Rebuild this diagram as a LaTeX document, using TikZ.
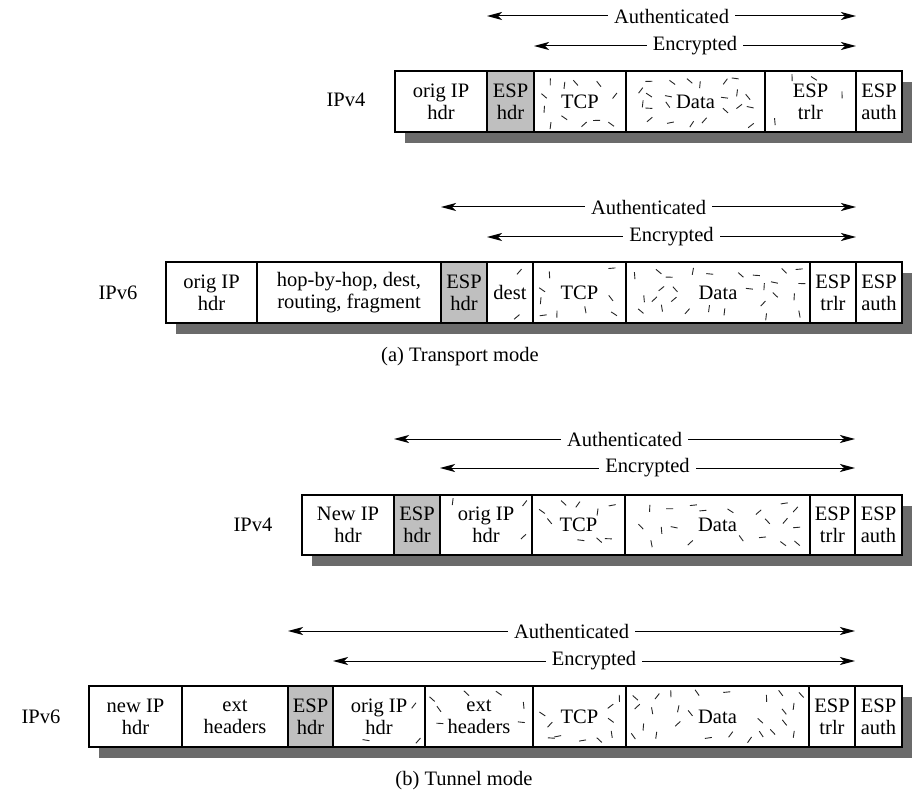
\documentclass[tikz,border=0pt]{standalone}
\usepackage{fontspec}
\setmainfont{Liberation Serif}
\usetikzlibrary{arrows.meta}
\tikzset{
  fld/.style={draw=black, line width=1.7pt, inner sep=0pt, align=center,
    font=\fontsize{20.5}{22}\selectfont},
  esph/.style={fill=black!25},
  shade/.style={fill=black!58},
  dashc/.style={line width=0.9pt, black!85},
  span/.style={line width=1pt, {Stealth[length=15pt,width=8pt,inset=4pt]}-{Stealth[length=15pt,width=8pt,inset=4pt]}},
  spanlbl/.style={fill=white, inner xsep=6pt, inner ysep=1pt, font=\fontsize{20.5}{22}\selectfont},
  rowlbl/.style={font=\fontsize{20.5}{22}\selectfont},
}
% field box: name, x1, x2, y1, y2, extra style, text
\newcommand\fld[7]{%
  \node[fld,#6,minimum width={#3-#2}, minimum height={#5-#4}] (#1) at ({(#2+#3)/2},{(#4+#5)/2}) {#7};}
% confetti on a jittered grid: x1, x2, y1, y2, exclusion half-width, exclusion half-height
\newcommand\confetti[6]{%
  \pgfmathtruncatemacro\ncol{max(1,round((#2-#1-8)/17))}%
  \pgfmathtruncatemacro\nrow{max(1,round((#4-#3-8)/15))}%
  \pgfmathsetmacro\ddx{(#2-#1-8)/\ncol}%
  \pgfmathsetmacro\ddy{(#4-#3-8)/\nrow}%
  \foreach \i in {1,...,\ncol}{%
   \foreach \j in {1,...,\nrow}{%
    \pgfmathsetmacro\cx{#1+4+(\i-0.5+0.35*rand)*\ddx}%
    \pgfmathsetmacro\cy{#3+4+(\j-0.5+0.35*rand)*\ddy}%
    \pgfmathtruncatemacro\ok{and(rnd>0.22, or(abs(\cx-(#1+#2)/2)>#5, abs(\cy-(#3+#4)/2)>#6))}%
    \pgfmathsetmacro\an{45*floor(4*rnd)+12*rand}%
    \ifnum\ok=1 \draw[dashc] (\cx,\cy) ++(\an:-3.5) -- ++(\an:7);\fi
  }}}
\newcommand\rowbase[4]{% x1,x2,y1,y2 : shadow + white fill
  \fill[shade] (#1+10,#3+11) rectangle (#2+10,#4+11);
  \fill[white] (#1,#3) rectangle (#2,#4);}
\begin{document}
\begin{tikzpicture}[x=1pt,y=-1pt]
\useasboundingbox (0,0) rectangle (921,794);
\pgfmathsetseed{11}

%% ---------------- Row 1: IPv4 transport
\rowbase{395}{902}{71}{132}
\confetti{534}{626}{71}{132}{26}{13}
\confetti{626}{765}{71}{132}{26}{13}
\confetti{765}{856}{71}{132}{22}{23}
\fld{r1a}{395}{487}{71}{132}{}{orig IP\\hdr}
\fld{r1b}{487}{534}{71}{132}{esph}{ESP\\hdr}
\fld{r1c}{534}{626}{71}{132}{}{TCP}
\fld{r1d}{626}{765}{71}{132}{}{Data}
\fld{r1e}{765}{856}{71}{132}{}{ESP\\trlr}
\fld{r1f}{856}{902}{71}{132}{}{ESP\\auth}
\node[rowlbl] (l1) at (346,100) {IPv4};
\coordinate (a1l) at (487,16); \coordinate (a1r) at (856,16);
\coordinate (e1l) at (534,46); \coordinate (e1r) at (856,46);
\draw[span] (a1l) -- (a1r) node[midway,spanlbl] (ta1) {Authenticated};
\draw[span] (e1l) -- (e1r) node[midway,spanlbl] (te1) {Encrypted};

%% ---------------- Row 2: IPv6 transport
\rowbase{166}{902}{262}{323}
\confetti{487}{533}{262}{323}{20}{12}
\confetti{533}{626}{262}{323}{26}{13}
\confetti{626}{810}{262}{323}{26}{13}
\confetti{810}{856}{262}{323}{22}{23}
\fld{r2a}{166}{257}{262}{323}{}{orig IP\\hdr}
\fld{r2b}{257}{441}{262}{323}{}{hop-by-hop, dest,\\routing, fragment}
\fld{r2c}{441}{487}{262}{323}{esph}{ESP\\hdr}
\fld{r2d}{487}{533}{262}{323}{}{dest}
\fld{r2e}{533}{626}{262}{323}{}{TCP}
\fld{r2f}{626}{810}{262}{323}{}{Data}
\fld{r2g}{810}{856}{262}{323}{}{ESP\\trlr}
\fld{r2h}{856}{902}{262}{323}{}{ESP\\auth}
\node[rowlbl] (l2) at (118,293) {IPv6};
\coordinate (a2l) at (441,207); \coordinate (a2r) at (856,207);
\coordinate (e2l) at (487,237); \coordinate (e2r) at (856,237);
\draw[span] (a2l) -- (a2r) node[midway,spanlbl] (ta2) {Authenticated};
\draw[span] (e2l) -- (e2r) node[midway,spanlbl] (te2) {Encrypted};

\node[rowlbl] (capa) at (460,357) {(a) Transport mode};

%% ---------------- Row 3: IPv4 tunnel
\rowbase{302}{902}{495}{555}
\confetti{440}{532}{495}{555}{34}{23}
\confetti{532}{625}{495}{555}{26}{13}
\confetti{625}{810}{495}{555}{26}{13}
\confetti{810}{855}{495}{555}{22}{23}
\fld{r3a}{302}{394}{495}{555}{}{New IP\\hdr}
\fld{r3b}{394}{440}{495}{555}{esph}{ESP\\hdr}
\fld{r3c}{440}{532}{495}{555}{}{orig IP\\hdr}
\fld{r3d}{532}{625}{495}{555}{}{TCP}
\fld{r3e}{625}{810}{495}{555}{}{Data}
\fld{r3f}{810}{855}{495}{555}{}{ESP\\trlr}
\fld{r3g}{855}{902}{495}{555}{}{ESP\\auth}
\node[rowlbl] (l3) at (253,525) {IPv4};
\coordinate (a3l) at (394,439); \coordinate (a3r) at (855,439);
\coordinate (e3l) at (440,468); \coordinate (e3r) at (855,468);
\draw[span] (a3l) -- (a3r) node[midway,spanlbl] (ta3) {Authenticated};
\draw[span] (e3l) -- (e3r) node[midway,spanlbl] (te3) {Encrypted};

%% ---------------- Row 4: IPv6 tunnel
\rowbase{89}{902}{686}{747}
\confetti{333}{425}{686}{747}{34}{23}
\confetti{425}{533}{686}{747}{38}{23}
\confetti{533}{626}{686}{747}{26}{13}
\confetti{626}{809}{686}{747}{26}{13}
\confetti{809}{855}{686}{747}{22}{23}
\fld{r4a}{89}{182}{686}{747}{}{new IP\\hdr}
\fld{r4b}{182}{288}{686}{747}{}{ext\\headers}
\fld{r4c}{288}{333}{686}{747}{esph}{ESP\\hdr}
\fld{r4d}{333}{425}{686}{747}{}{orig IP\\hdr}
\fld{r4e}{425}{533}{686}{747}{}{ext\\headers}
\fld{r4f}{533}{626}{686}{747}{}{TCP}
\fld{r4g}{626}{809}{686}{747}{}{Data}
\fld{r4h}{809}{855}{686}{747}{}{ESP\\trlr}
\fld{r4i}{855}{902}{686}{747}{}{ESP\\auth}
\node[rowlbl] (l4) at (41,717) {IPv6};
\coordinate (a4l) at (288,631); \coordinate (a4r) at (855,631);
\coordinate (e4l) at (333,661); \coordinate (e4r) at (855,661);
\draw[span] (a4l) -- (a4r) node[midway,spanlbl] (ta4) {Authenticated};
\draw[span] (e4l) -- (e4r) node[midway,spanlbl] (te4) {Encrypted};

\node[rowlbl] (capb) at (464,781) {(b) Tunnel mode};
\end{tikzpicture}
\end{document}
